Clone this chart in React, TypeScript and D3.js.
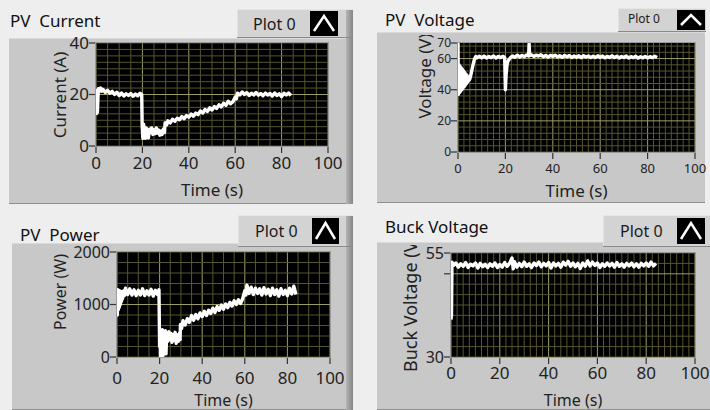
import React from 'react';
import * as d3 from 'd3';

// --- data: [time (s), value] ---
const currentData: [number, number][] = [
  [0, 12], [0.3, 21.5], [0.6, 13], [1, 22.3], [1.5, 21.2], [2, 22.5], [2.5, 21.3], [3, 22], [4, 20.8], [5, 21.6],
  [6, 20.5], [7, 21.2], [8, 20], [9, 20.9], [10, 19.6], [11, 20.6], [12, 19.4], [13, 20.3], [14, 19.6], [15, 20.4],
  [16, 19.3], [17, 20.2], [18, 19.5], [19, 20.5], [19.7, 20], [19.9, 8], [20.2, 3], [20.5, 8.5], [21, 5.5], [21.3, 3],
  [21.7, 7], [22.2, 4.8], [22.6, 3.2], [23, 6.5], [23.5, 5.2], [24, 7], [24.5, 4.5], [25, 6.3], [25.5, 4.8], [26, 7],
  [26.5, 5], [27, 6.2], [27.5, 4.2], [28, 5.8], [28.5, 4.5], [29, 6.5], [29.5, 5.2], [29.8, 9], [30.5, 8.2], [31, 9.8],
  [32, 9], [33, 10.4], [34, 9.6], [35, 10.8], [36, 10.2], [37, 11.4], [38, 10.6], [39, 11.8], [40, 11.2], [41, 12.4],
  [42, 11.6], [43, 12.8], [44, 12.2], [45, 13.6], [46, 12.8], [47, 14.2], [48, 13.4], [49, 14.8], [50, 14], [51, 15.3],
  [52, 14.6], [53, 16], [54, 15.2], [55, 16.6], [56, 15.8], [57, 17.4], [58, 16.4], [59, 17.2], [60, 19], [60.5, 18.3],
  [61, 20.5], [62, 19.8], [63, 21], [64, 20], [65, 20.7], [66, 19.6], [67, 20.5], [68, 19.8], [69, 20.8], [70, 19.7],
  [71, 20.4], [72, 19.5], [73, 20.6], [74, 19.8], [75, 20.4], [76, 19.4], [77, 20.6], [78, 19.6], [79, 20.3], [80, 19.2],
  [81, 20.5], [82, 19.8], [83, 20.6], [84, 19.6],
];

const voltageData: [number, number][] = [
  [0, 70], [0.15, 37], [0.4, 56], [0.6, 38], [0.9, 55], [1.1, 39], [1.4, 54], [1.6, 40], [1.9, 53], [2.1, 41],
  [2.4, 52], [2.6, 42], [2.9, 51], [3.1, 43], [3.4, 50], [3.6, 44], [3.9, 49], [4.1, 45], [4.4, 48], [4.6, 46],
  [5, 47], [5.5, 50], [6, 53.5], [6.5, 57], [7, 60], [7.5, 61.3], [8, 60.4], [9, 61.5], [10, 60.5], [11, 61.6],
  [12, 60.4], [13, 61.3], [14, 60.6], [15, 61.7], [16, 60.3], [17, 61.4], [18, 60.7], [19, 61.5], [19.7, 60.6], [20, 40],
  [20.3, 50], [20.7, 56], [21, 58], [21.5, 59.3], [22, 60.3], [23, 61.7], [24, 60.8], [25, 62.2], [26, 61], [27, 62],
  [28, 61.2], [29, 62.3], [29.8, 61.6], [30, 69.5], [30.2, 61.8], [31, 62.4], [32, 61.4], [33, 62.2], [34, 61.6], [35, 62.4],
  [36, 61.2], [37, 62], [38, 61], [39, 62.1], [40, 61.4], [41, 62.2], [42, 61], [43, 61.8], [44, 60.8], [45, 62],
  [46, 61.2], [47, 61.9], [48, 60.7], [49, 61.6], [50, 60.9], [51, 61.8], [52, 60.6], [53, 61.9], [54, 61], [55, 61.7],
  [56, 60.6], [57, 61.5], [58, 60.7], [59, 61.8], [60, 60.8], [61, 61.6], [62, 60.5], [63, 61.4], [64, 60.7], [65, 61.8],
  [66, 60.6], [67, 61.5], [68, 60.4], [69, 61.3], [70, 60.7], [71, 61.6], [72, 60.4], [73, 61.2], [74, 60.6], [75, 61.5],
  [76, 60.3], [77, 61.2], [78, 60.5], [79, 61.4], [80, 60.4], [81, 61.2], [82, 60.6], [83, 61.5], [84, 60.7],
];

const powerData: [number, number][] = [
  [0, 1300], [0.15, 800], [0.4, 1280], [0.6, 900], [0.9, 1270], [1.1, 950], [1.4, 1260], [1.6, 1000], [1.9, 1250], [2.1, 1060],
  [2.4, 1240], [2.6, 1110], [3, 1260], [3.5, 1170], [4, 1310], [5, 1190], [6, 1300], [7, 1180], [8, 1280], [9, 1170],
  [10, 1270], [11, 1180], [12, 1300], [13, 1170], [14, 1260], [15, 1180], [16, 1290], [17, 1160], [18, 1270], [19, 1190],
  [19.7, 1280], [20, 200], [20.2, 500], [20.4, 0], [20.7, 450], [21, 300], [21.3, 520], [21.6, 30], [21.9, 420], [22.3, 350],
  [22.7, 500], [23, 60], [23.3, 420], [23.8, 300], [24.3, 480], [24.8, 330], [25.3, 450], [25.8, 280], [26.3, 430], [26.8, 320],
  [27.3, 470], [27.8, 260], [28.3, 420], [28.8, 300], [29.3, 450], [29.6, 330], [29.8, 620], [30.3, 540], [31, 690], [32, 610],
  [33, 730], [34, 660], [35, 790], [36, 700], [37, 810], [38, 730], [39, 840], [40, 770], [41, 870], [42, 790],
  [43, 890], [44, 830], [45, 930], [46, 850], [47, 960], [48, 890], [49, 990], [50, 910], [51, 1010], [52, 940],
  [53, 1040], [54, 970], [55, 1070], [56, 1000], [57, 1090], [58, 1020], [59, 1110], [60, 1260], [60.5, 1180], [61, 1370],
  [62, 1210], [63, 1330], [64, 1190], [65, 1310], [66, 1210], [67, 1300], [68, 1180], [69, 1320], [70, 1200], [71, 1290],
  [72, 1170], [73, 1310], [74, 1190], [75, 1280], [76, 1160], [77, 1300], [78, 1190], [79, 1270], [80, 1170], [81, 1310],
  [82, 1200], [83, 1350], [84, 1190],
];

const buckData: [number, number][] = [
  [0, 39], [0.2, 40], [0.4, 52.8], [1, 52], [2, 52.6], [3, 51.6], [4, 52.4], [5, 51.8], [6, 52.7], [7, 51.5],
  [8, 52.3], [9, 51.9], [10, 52.6], [11, 51.4], [12, 52.5], [13, 51.7], [14, 52.3], [15, 51.5], [16, 52.4], [17, 51.8],
  [18, 52.6], [19, 51.5], [20, 52.2], [21, 51.6], [22, 52.7], [23, 51.8], [24, 52.5], [25, 53.8], [25.5, 51.2], [26, 52.9],
  [27, 51.6], [28, 52.5], [29, 51.7], [30, 52.8], [31, 51.8], [32, 52.4], [33, 51.5], [34, 52.6], [35, 52], [36, 52.8],
  [37, 51.7], [38, 52.5], [39, 51.9], [40, 52.7], [41, 51.4], [42, 52.6], [43, 51.9], [44, 52.5], [45, 51.6], [46, 52.8],
  [47, 52.1], [48, 53], [49, 51.8], [50, 52.6], [51, 51.7], [52, 52.5], [53, 51.3], [54, 52.6], [55, 51.8], [56, 53.1],
  [57, 51.9], [58, 52.8], [59, 52], [60, 52.6], [61, 51.5], [62, 52.4], [63, 51.8], [64, 52.6], [65, 51.9], [66, 52.5],
  [67, 51.6], [68, 52.7], [69, 51.8], [70, 52.4], [71, 51.6], [72, 52.5], [73, 51.9], [74, 52.6], [75, 51.7], [76, 52.4],
  [77, 51.6], [78, 52.5], [79, 51.9], [80, 52.6], [81, 51.8], [82, 52.8], [83, 51.9], [84, 52.5],
];

const timeTicks = [0, 20, 40, 60, 80, 100];
const currentTicks = [0, 20, 40];
const voltageTicks = [0, 20, 40, 60, 70];
const powerTicks = [0, 1000, 2000];
const buckTicks = [30, 50, 55];
const buckTickLabels = ['30', '', '55'];

const FONT = '"Noto Sans", "Open Sans", sans-serif';
const MINOR = '#55552f';
const MAJOR = '#9d9d62';

interface Box { x: number; y: number; w: number; h: number; }

interface PanelSpec {
  id: string;
  title: string;
  titleX: number;
  titleY: number;
  body: Box;
  bevel: boolean;
  legend: Box;
  legendText: { x: number; y: number; size: number };
  icon: Box;
  plot: { x0: number; x1: number; y0: number; y1: number };
  yDomain: [number, number];
  yTicks: number[];
  yTickLabels?: string[];
  yTickSize: number;
  xTickSize: number;
  xTickLabelY: number;
  xMinor: number;
  yMinor: number;
  yMajor: number[];
  yLabel: string;
  yLabelX: number;
  yLabelY: number;
  yLabelSize: number;
  yLabelAnchor: 'middle' | 'start';
  xLabelY: number;
  xLabelSize: number;
  data: [number, number][];
}

const panels: PanelSpec[] = [
  {
    id: 'p1', title: 'PV  Current', titleX: 10, titleY: 27,
    body: { x: 9, y: 38, w: 344, h: 166 }, bevel: true,
    legend: { x: 237, y: 9, w: 116, h: 29 }, legendText: { x: 253, y: 30, size: 16 },
    icon: { x: 310, y: 11, w: 28, h: 25 },
    plot: { x0: 96, x1: 328, y0: 43, y1: 146 },
    yDomain: [0, 40], yTicks: currentTicks, yTickSize: 17, xTickSize: 17, xTickLabelY: 169,
    xMinor: 5, yMinor: 2.5, yMajor: [20],
    yLabel: 'Current (A)', yLabelX: 60, yLabelY: 95, yLabelSize: 17, yLabelAnchor: 'middle',
    xLabelY: 196, xLabelSize: 17, data: currentData,
  },
  {
    id: 'p2', title: 'PV  Voltage', titleX: 385, titleY: 26,
    body: { x: 377, y: 32, w: 328, h: 171 }, bevel: false,
    legend: { x: 618, y: 8, w: 88, h: 24 }, legendText: { x: 628, y: 23, size: 12 },
    icon: { x: 677, y: 10, w: 28, h: 20 },
    plot: { x0: 458, x1: 695, y0: 43, y1: 152 },
    yDomain: [0, 70], yTicks: voltageTicks, yTickSize: 12, xTickSize: 13, xTickLabelY: 173,
    xMinor: 2.5, yMinor: 4, yMajor: [20, 40, 60],
    yLabel: 'Voltage (V)', yLabelX: 425, yLabelY: 76, yLabelSize: 17, yLabelAnchor: 'middle',
    xLabelY: 197, xLabelSize: 17, data: voltageData,
  },
  {
    id: 'p3', title: 'PV  Power', titleX: 20, titleY: 241,
    body: { x: 12, y: 243, w: 341, h: 167 }, bevel: true,
    legend: { x: 238, y: 215, w: 115, h: 32 }, legendText: { x: 255, y: 237, size: 16 },
    icon: { x: 312, y: 218, w: 27, h: 26 },
    plot: { x0: 117, x1: 330, y0: 252, y1: 357 },
    yDomain: [0, 2000], yTicks: powerTicks, yTickSize: 16, xTickSize: 17, xTickLabelY: 384,
    xMinor: 5, yMinor: 200, yMajor: [1000],
    yLabel: 'Power (W)', yLabelX: 60, yLabelY: 292, yLabelSize: 16, yLabelAnchor: 'middle',
    xLabelY: 406, xLabelSize: 16, data: powerData,
  },
  {
    id: 'p4', title: 'Buck Voltage', titleX: 385, titleY: 233,
    body: { x: 377, y: 242, w: 333, h: 168 }, bevel: false,
    legend: { x: 603, y: 215, w: 107, h: 32 }, legendText: { x: 620, y: 237, size: 16 },
    icon: { x: 677, y: 218, w: 28, h: 26 },
    plot: { x0: 451, x1: 695, y0: 253, y1: 357 },
    yDomain: [30, 55], yTicks: buckTicks, yTickLabels: buckTickLabels, yTickSize: 16, xTickSize: 17, xTickLabelY: 379,
    xMinor: 2.5, yMinor: 2.5, yMajor: [50],
    yLabel: 'Buck Voltage (V)', yLabelX: 411, yLabelY: 372, yLabelSize: 18, yLabelAnchor: 'start',
    xLabelY: 406, xLabelSize: 16, data: buckData,
  },
];

const Panel: React.FC<{ p: PanelSpec }> = ({ p }) => {
  const x = d3.scaleLinear().domain([0, 100]).range([p.plot.x0, p.plot.x1]);
  const y = d3.scaleLinear().domain(p.yDomain).range([p.plot.y1, p.plot.y0]);
  const line = d3.line<[number, number]>().x(d => x(d[0])).y(d => y(d[1]));
  const xMinorLines = d3.range(0, 100 + 1e-6, p.xMinor);
  const yMinorLines = d3.range(p.yDomain[0], p.yDomain[1] + 1e-6, p.yMinor);
  const { body, legend, icon } = p;

  return (
    <g>
      <defs>
        <clipPath id={`clip-${p.id}`}>
          <rect x={p.plot.x0} y={p.plot.y0} width={p.plot.x1 - p.plot.x0} height={p.plot.y1 - p.plot.y0} />
        </clipPath>
        <clipPath id={`body-${p.id}`}>
          <rect x={body.x} y={body.y + 3} width={body.w} height={body.h} />
        </clipPath>
        <linearGradient id={`bev-${p.id}`} x1="0" x2="1" y1="0" y2="0">
          <stop offset="0" stopColor="#b4b4b4" />
          <stop offset="1" stopColor="#858585" />
        </linearGradient>
      </defs>

      {/* panel body */}
      <rect x={body.x} y={body.y} width={body.w} height={body.h} fill="#c8c8c8" />
      <line x1={body.x} x2={body.x + body.w} y1={body.y + 0.5} y2={body.y + 0.5} stroke="#dadada" />
      <line x1={body.x} x2={body.x + body.w} y1={body.y + body.h - 0.5} y2={body.y + body.h - 0.5} stroke="#8e8e8e" />
      {p.bevel && (
        <rect x={body.x + body.w - 7} y={legend.y} width={7} height={body.y + body.h - legend.y} fill={`url(#bev-${p.id})`} />
      )}

      {/* legend button */}
      <rect x={legend.x} y={legend.y} width={legend.w - (p.bevel ? 7 : 0)} height={legend.h} fill="#d3d3d3" />
      <line x1={legend.x} x2={legend.x + legend.w} y1={legend.y + 0.5} y2={legend.y + 0.5} stroke="#e6e6e6" />
      <line x1={legend.x + 0.5} x2={legend.x + 0.5} y1={legend.y} y2={legend.y + legend.h} stroke="#e2e2e2" />
      <line x1={legend.x} x2={legend.x + legend.w} y1={legend.y + legend.h - 0.5} y2={legend.y + legend.h - 0.5} stroke="#8a8a8a" />
      <text x={p.legendText.x} y={p.legendText.y} fontFamily={FONT} fontSize={p.legendText.size} fill="#1a1a1a">Plot 0</text>
      <rect x={icon.x} y={icon.y} width={icon.w} height={icon.h} fill="#000" />
      <polyline
        points={`${icon.x + 4},${icon.y + icon.h - 5} ${icon.x + icon.w / 2},${icon.y + 5} ${icon.x + icon.w - 4},${icon.y + icon.h - 5}`}
        fill="none" stroke="#fff" strokeWidth={2.5} strokeLinejoin="miter" />

      {/* title */}
      <text x={p.titleX} y={p.titleY} fontFamily={FONT} fontSize={17} fill="#111" style={{ whiteSpace: 'pre' }}>{p.title}</text>

      {/* plot area */}
      <rect x={p.plot.x0} y={p.plot.y0} width={p.plot.x1 - p.plot.x0} height={p.plot.y1 - p.plot.y0} fill="#000" />
      <g clipPath={`url(#clip-${p.id})`}>
        {xMinorLines.map(v => (
          <line key={`xm${v}`} x1={x(v)} x2={x(v)} y1={p.plot.y0} y2={p.plot.y1}
            stroke={v % 20 === 0 ? MAJOR : MINOR} strokeWidth={1} />
        ))}
        {yMinorLines.map(v => (
          <line key={`ym${v}`} x1={p.plot.x0} x2={p.plot.x1} y1={y(v)} y2={y(v)}
            stroke={p.yMajor.includes(v) ? MAJOR : MINOR} strokeWidth={1} />
        ))}
        <path d={line(p.data) || ''} fill="none" stroke="#fff" strokeWidth={3.4} strokeLinejoin="round" />
      </g>
      <rect x={p.plot.x0 - 0.5} y={p.plot.y0 - 0.5} width={p.plot.x1 - p.plot.x0 + 1} height={p.plot.y1 - p.plot.y0 + 1}
        fill="none" stroke="#9a9a9a" strokeWidth={1} />

      {/* y axis */}
      {p.yTicks.map((v, i) => (
        <g key={`yt${v}`}>
          <line x1={p.plot.x0 - 7} x2={p.plot.x0 - 1} y1={y(v)} y2={y(v)} stroke="#333" strokeWidth={1.2} />
          <text x={p.plot.x0 - 7} y={y(v)} dy="0.35em" textAnchor="end" fontFamily={FONT}
            fontSize={p.yTickSize} fill="#222">
            {p.yTickLabels ? p.yTickLabels[i] : String(v)}
          </text>
        </g>
      ))}

      {/* x axis */}
      {timeTicks.map(v => (
        <g key={`xt${v}`}>
          <line x1={x(v)} x2={x(v)} y1={p.plot.y1 + 1} y2={p.plot.y1 + 7} stroke="#333" strokeWidth={1.2} />
          <text x={x(v)} y={p.xTickLabelY} textAnchor="middle" fontFamily={FONT} fontSize={p.xTickSize} fill="#222">{v}</text>
        </g>
      ))}
      <text x={(p.plot.x0 + p.plot.x1) / 2} y={p.xLabelY} textAnchor="middle" fontFamily={FONT}
        fontSize={p.xLabelSize} fill="#222">Time (s)</text>

      <g clipPath={`url(#body-${p.id})`}>
        <text transform={`translate(${p.yLabelX},${p.yLabelY}) rotate(-90)`} textAnchor={p.yLabelAnchor}
          dy="0.35em" fontFamily={FONT} fontSize={p.yLabelSize} fill="#222">{p.yLabel}</text>
      </g>
    </g>
  );
};

const App: React.FC = () => (
  <div style={{ position: 'fixed', left: 0, top: 0 }}>
    <svg width={710} height={410} viewBox="0 0 710 410" style={{ display: 'block' }}>
      <rect x={0} y={0} width={710} height={410} fill="#eeeeee" />
      {panels.map(p => <Panel key={p.id} p={p} />)}
    </svg>
  </div>
);

export default App;
